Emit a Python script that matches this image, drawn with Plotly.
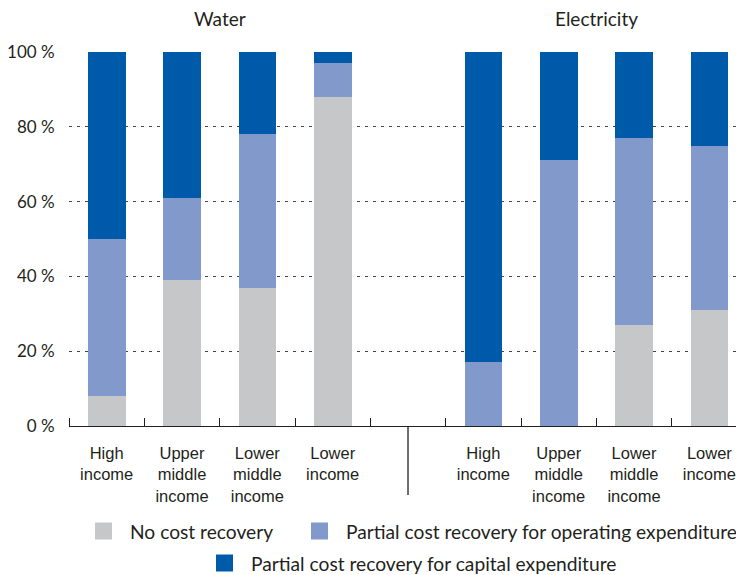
import plotly.graph_objects as go

# ---- data ----
groups = ["Water", "Electricity"]
categories = ["High<br>income", "Upper<br>middle<br>income", "Lower<br>middle<br>income", "Lower<br>income"]
series_names = ["No cost recovery",
                "Partial cost recovery for operating expenditure",
                "Partial cost recovery for capital expenditure"]
water_no = [8, 39, 37, 88]
water_opex = [42, 22, 41, 9]
water_capex = [50, 39, 22, 3]
elec_no = [0, 0, 27, 31]
elec_opex = [17, 71, 50, 44]
elec_capex = [83, 29, 23, 25]
y_ticks = [0, 20, 40, 60, 80, 100]
y_tick_labels = ["0 %", "20 %", "40 %", "60 %", "80 %", "100 %"]

colors = ["#C6C7C9", "#8299CB", "#005AAA"]
TEXT = "#231F20"
FONT = "Lato, Open Sans, sans-serif"

# positions: 4 water bars, one empty slot, 4 electricity bars
x_water = [0, 1, 2, 3]
x_elec = [5, 6, 7, 8]
xs = x_water + x_elec
series = [water_no + elec_no, water_opex + elec_opex, water_capex + elec_capex]

OFF = 8  # page body margin
W, H = 744 - OFF, 575 - OFF
L, R, T, B = 69 - OFF, 0, 52 - OFF, 575 - 426
pw, ph = W - L - R, H - T - B


def px(x):
    return (x - OFF - L) / pw


def py(y):
    return (H - B - (y - OFF)) / ph


fig = go.Figure()
for name, vals, c in zip(series_names, series, colors):
    fig.add_trace(go.Bar(x=xs, y=vals, name=name, marker=dict(color=c, line=dict(width=0)),
                         width=0.5, showlegend=False))

fig.update_layout(
    barmode="stack",
    width=W, height=H,
    margin=dict(l=L, r=R, t=T, b=B, pad=0, autoexpand=False),
    paper_bgcolor="white", plot_bgcolor="white",
    font=dict(family=FONT, color=TEXT),
    xaxis=dict(
        range=[-0.5, 8.46], automargin=False,
        tickvals=xs,
        ticktext=categories + categories,
        ticks="", showgrid=False, zeroline=False,
        showline=True, linecolor="#231F20", linewidth=1.3,
        tickfont=dict(family="Liberation Sans Narrow, Arial Narrow, sans-serif", size=16.5, color=TEXT),
        ticklabelstandoff=12,
        minor=dict(tickvals=[-0.5, 0.5, 1.5, 2.5, 3.5, 4.5, 5.5, 6.5, 7.5],
                   ticks="inside", ticklen=8, tickcolor="#231F20", tickwidth=1.3, showgrid=False),
        fixedrange=True,
    ),
    yaxis=dict(
        range=[0, 100], automargin=False,
        tickvals=y_ticks,
        ticktext=y_tick_labels,
        showgrid=True, gridcolor="#444444", griddash="3px,5px", gridwidth=1.2,
        zeroline=False, showline=False,
        ticks="outside", ticklen=10, tickcolor="rgba(0,0,0,0)",
        tickfont=dict(size=17, color=TEXT, family=FONT),
        fixedrange=True,
    ),
)

# group titles
for g, xg in zip(groups, [1.5, 6.5]):
    fig.add_annotation(x=xg, xref="x", y=py(18), yref="paper", text=g, showarrow=False,
                       font=dict(size=19, color=TEXT, family=FONT), xanchor="center", yanchor="middle")

# separator between groups
fig.add_shape(type="line", xref="x", yref="paper", x0=4, x1=4, y0=0, y1=py(495),
              line=dict(color="#231F20", width=1.3))

# legend (manual, two centred rows)
legend_items = [(series_names[0], colors[0], 95, 531),
                (series_names[1], colors[1], 311, 531),
                (series_names[2], colors[2], 216, 563)]
for name, c, x0, yc in legend_items:
    fig.add_shape(type="rect", xref="paper", yref="paper",
                  x0=px(x0), x1=px(x0 + 17), y0=py(yc - 8.5), y1=py(yc + 8.5),
                  fillcolor=c, line=dict(width=0))
    fig.add_annotation(x=px(x0 + 33), y=py(yc), xref="paper", yref="paper", text=name,
                       showarrow=False, xanchor="left", yanchor="middle",
                       font=dict(size=19.2, color=TEXT, family=FONT))

fig.write_html("out.html")
